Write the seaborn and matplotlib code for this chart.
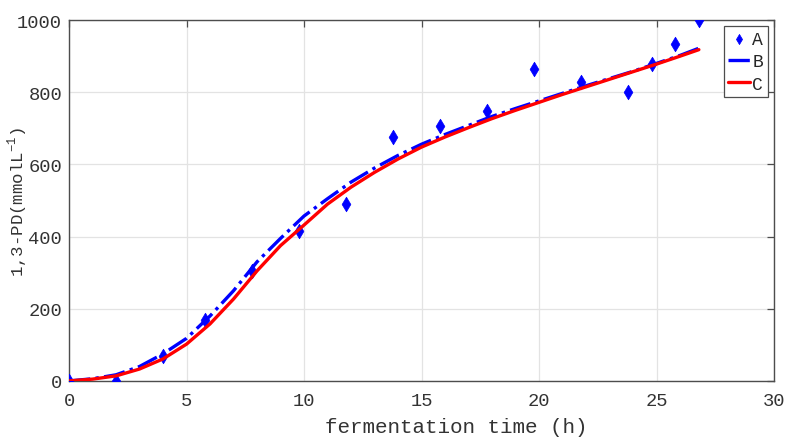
import matplotlib
matplotlib.use("Agg")
import matplotlib.pyplot as plt
import numpy as np
import pandas as pd
import seaborn as sns

# measured data (A)
time_a = [0, 2, 4, 5.8, 7.8, 9.8, 11.8, 13.8, 15.8, 17.8, 19.8, 21.8, 23.8, 24.8, 25.8, 26.8]
pd_a = [0, 0, 70, 169, 305, 415, 490, 676, 706, 748, 864, 828, 800, 878, 934, 1000]

# model curves (B, C)
time_fit = [0, 1, 2, 3, 4, 5, 6, 7, 8, 9, 10, 11, 12, 13, 14, 15, 16, 17, 18, 19,
            20, 21, 22, 23, 24, 25, 26, 26.8]
pd_b = [0, 6, 17, 40, 75, 118, 180, 250, 330, 395, 457, 505, 551, 590, 625, 656,
        683, 708, 733, 755, 776, 797, 818, 838, 858, 880, 902, 922]
pd_c = [0, 5, 14, 33, 61, 102, 158, 227, 305, 375, 432, 490, 537, 578, 615, 648,
        676, 702, 727, 750, 772, 794, 815, 836, 857, 878, 900, 918]

x_ticks = [0, 5, 10, 15, 20, 25, 30]
y_ticks = [0, 200, 400, 600, 800, 1000]

sns.set_theme(style="whitegrid")
plt.rcParams["font.family"] = ["Liberation Mono", "DejaVu Sans"]
plt.rcParams["mathtext.fontset"] = "custom"
plt.rcParams["mathtext.rm"] = "Liberation Mono"

fig = plt.figure(figsize=(7.88, 4.39), dpi=100)
ax = fig.add_axes([0.0876, 0.130, 0.8947, 0.822])

df_a = pd.DataFrame({"t": time_a, "y": pd_a})
df_fit = pd.DataFrame({"t": time_fit, "B": pd_b, "C": pd_c})

sns.scatterplot(data=df_a, x="t", y="y", ax=ax, marker="d", s=55, color="#0000ff",
                edgecolor="#0000ff", linewidth=0.5, label="A", zorder=3)
sns.lineplot(data=df_fit, x="t", y="B", ax=ax, color="#0000ff", linestyle="-.",
             linewidth=2.4, label="B", zorder=4)
sns.lineplot(data=df_fit, x="t", y="C", ax=ax, color="#ff0000", linestyle="-",
             linewidth=2.4, label="C", zorder=5)

ax.set_xlim(0, 30)
ax.set_ylim(0, 1000)
ax.set_xticks(x_ticks)
ax.set_yticks(y_ticks)
ax.grid(True, color="#e3e3e3", linewidth=0.9)
for sp in ax.spines.values():
    sp.set_color("#4d4d4d")
    sp.set_linewidth(1.0)
ax.tick_params(direction="in", length=5, width=0.9, color="#4d4d4d",
               top=True, right=True, labelsize=13.5, labelcolor="#333333")
ax.tick_params(axis="x", pad=8)
ax.tick_params(axis="y", pad=5)

ax.set_xlabel("fermentation time (h)", fontsize=15, color="#333333")
ax.xaxis.set_label_coords(0.549, -0.10)
ax.set_ylabel("1,3-PD(mmolL$^{-1}$)", fontsize=12.5, color="#333333")
ax.yaxis.set_label_coords(-0.055, 0.5)

leg = ax.legend(loc="upper right", fontsize=13, handlelength=1.2, handletextpad=0.15,
                borderpad=0.25, labelspacing=0.3, borderaxespad=0.35,
                fancybox=False, framealpha=1, edgecolor="#4d4d4d", markerscale=0.7)
leg.get_frame().set_linewidth(0.9)

fig.savefig("out.png", dpi=100)
